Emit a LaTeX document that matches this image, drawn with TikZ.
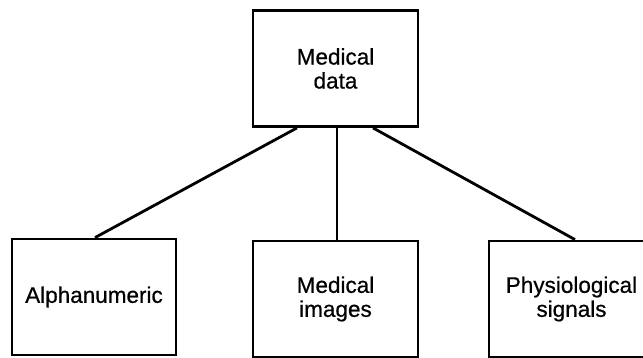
\documentclass[tikz,border=0pt]{standalone}
\usepackage{fontspec}
\setmainfont{Liberation Sans}
\newfontfamily\labelfont{Liberation Sans}[FakeBold=0.6]
\usetikzlibrary{calc}

\tikzset{
  box/.style={draw=black, line width=2.8pt, minimum width=165pt, minimum height=116pt,
    inner sep=0pt, align=center, font=\labelfont\fontsize{22.5}{24}\selectfont},
  link/.style={draw=black, line width=2.8pt}
}

\begin{document}
\begin{tikzpicture}[x=1pt, y=-1pt]
  % page frame
  \useasboundingbox (0,0) rectangle (643,358);

  % hierarchy boxes
  \node[box] (data)  at (335.5,68.5) {Medical\\data};
  \node[box, minimum width=164pt] (alpha) at (94,297) {Alphanumeric};
  \node[box] (images) at (335.5,299) {Medical\\images};
  \node[box] (signals) at (571.5,299) {Physiological\\signals};

  % branch lines
  \draw[link] ($(data.south)+(-38.5,0)$) -- ($(alpha.north)+(1,0)$);
  \draw[link] ($(data.south)+(1.5,0)$) -- ($(images.north)+(1.5,0)$);
  \draw[link] ($(data.south)+(37.5,0)$) -- ($(signals.north)+(3.5,0)$);
\end{tikzpicture}
\end{document}
